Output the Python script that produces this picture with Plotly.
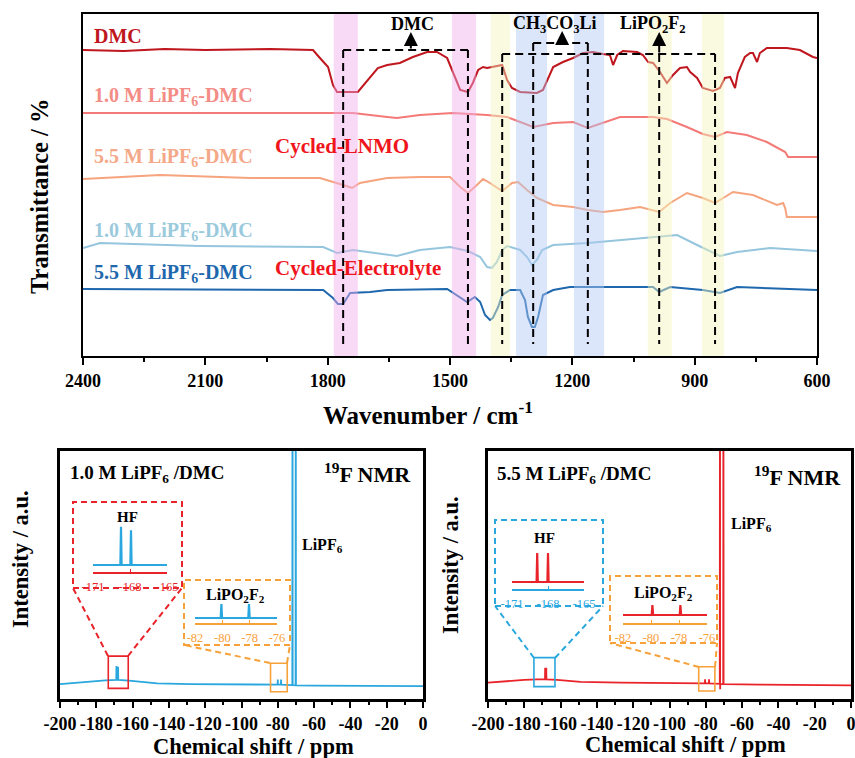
import plotly.graph_objects as go

W, H = 855, 758

# ---------------- FTIR data: wavenumber (cm-1) vs stacked transmittance (a.u.) ----------------
dmc_wn = [2400, 2300, 2200, 2100, 1941, 1836, 1819, 1799, 1787, 1777,
          1726, 1701, 1677, 1654, 1623, 1591, 1556, 1532, 1507, 1493,
          1475, 1456, 1444, 1431, 1419, 1409, 1395, 1372, 1360, 1348,
          1328, 1287, 1272, 1260, 1247, 1223, 1198, 1174, 1149, 1125,
          1108, 1100, 1090, 1076, 1041, 1027, 1014, 1002, 985, 968,
          953, 936, 919, 911, 894, 880, 855, 838, 826, 813,
          801, 794, 777, 764, 757, 747, 740, 723, 674, 642,
          610, 600]
dmc_tr = [306, 305, 307, 306, 307, 306, 298, 289, 271, 264,
          264, 276, 288, 291, 293, 299, 304, 304, 298, 284,
          266, 264, 273, 286, 289, 288, 289, 291, 276, 268,
          264, 263, 266, 278, 289, 294, 298, 303, 304, 302,
          301, 291, 301, 305, 304, 301, 294, 293, 284, 273,
          281, 288, 289, 284, 278, 268, 265, 268, 278, 279,
          268, 283, 299, 303, 303, 294, 303, 308, 308, 306,
          299, 298]

lnmo10_wn = [2400, 1787, 1738, 1654, 1630, 1574, 1493, 1409, 1360, 1328,
             1296, 1247, 1198, 1162, 1125, 1083, 1002, 968, 919, 880,
             850, 821, 772, 723, 678, 671, 600]
lnmo10_tr = [243, 243, 243, 239, 238, 241, 243, 241, 239, 234,
             229, 233, 234, 228, 233, 239, 239, 237, 229, 222,
             219, 224, 221, 214, 204, 199, 199]

lnmo55_wn = [2400, 2211, 1990, 1819, 1762, 1740, 1721, 1654, 1574, 1500,
             1475, 1456, 1434, 1419, 1402, 1372, 1348, 1333, 1311, 1287,
             1247, 1198, 1162, 1125, 1083, 1034, 987, 960, 919, 880,
             850, 806, 757, 698, 683, 678, 674, 600]
lnmo55_tr = [177, 181, 178, 178, 171, 168, 173, 178, 179, 179,
             169, 163, 171, 177, 173, 165, 173, 174, 166, 158,
             151, 149, 146, 144, 146, 149, 144, 153, 163, 158,
             153, 164, 161, 151, 153, 148, 139, 139]

elec10_wn = [2400, 2358, 2113, 1811, 1777, 1738, 1630, 1574, 1500, 1456,
             1426, 1409, 1397, 1385, 1372, 1360, 1328, 1311, 1299, 1287,
             1274, 1247, 1162, 1083, 1002, 943, 894, 838, 796, 715, 600]
elec10_tr = [108, 113, 110, 109, 103, 106, 100, 106, 109, 105,
             99, 89, 88, 94, 106, 110, 106, 99, 91, 96,
             106, 111, 113, 116, 119, 121, 111, 100, 104, 108, 105]

elec55_wn = [2400, 1811, 1787, 1775, 1762, 1745, 1696, 1654, 1507, 1483,
             1458, 1439, 1426, 1414, 1402, 1395, 1382, 1372, 1353, 1328,
             1316, 1309, 1299, 1292, 1284, 1272, 1247, 1206, 1002, 987,
             960, 880, 838, 796, 600]
elec55_tr = [67, 66, 58, 52, 52, 63, 64, 66, 67, 61,
             54, 59, 54, 41, 36, 38, 49, 61, 66, 66,
             56, 39, 29, 29, 39, 61, 66, 69, 69, 64,
             69, 66, 63, 69, 66]

# highlighted bands (cm-1) and assignment lines
band_pink = [(1785, 1726), (1495, 1436)]
band_yellow = [(1400, 1353), (1015, 956), (882, 828)]
band_blue = [(1338, 1262), (1196, 1122)]
dmc_lines = [1762, 1456]
ch3_lines = [1296, 1162]
lipo_lines = [1372, 987, 850]
ftir_ticks = [2400, 2100, 1800, 1500, 1200, 900, 600]

# ---------------- 19F NMR data: ppm vs intensity (a.u.) ----------------
nmr10_ppm = [-200, -190, -183, -175, -169.0, -168.9, -168.8, -168.1, -168.0, -167.9,
             -162, -156, -146.5, -128, -100, -82, -80.1, -80.0, -79.9, -78.3,
             -78.2, -78.1, -72.2, -72.0, -71.9, -71.8, -70.2, -70.1, -70.0, -60,
             -30, 0]
nmr10_int = [6.0, 6.7, 7.1, 7.5, 7.7, 13.3, 7.7, 7.7, 13.0, 7.7,
             7.4, 7.0, 6.3, 6.0, 5.9, 5.8, 5.8, 7.9, 5.8, 5.8,
             7.9, 5.8, 5.6, 5.6, 160, 5.6, 5.5, 160, 5.5, 5.4,
             5.3, 5.2]

nmr55_ppm = [-200, -188, -180, -173, -168.6, -168.5, -168.4, -168.0, -167.9, -167.8,
             -162, -155, -149, -127, -100, -85, -80.5, -80.4, -80.3, -78.3,
             -78.2, -78.1, -72.3, -72.2, -72.1, -72.0, -70.4, -70.3, -70.2, -50,
             -20, 0]
nmr55_int = [6.6, 7.4, 7.7, 7.9, 7.9, 12.6, 7.9, 7.9, 12.6, 7.9,
             7.7, 7.3, 6.9, 6.6, 6.4, 6.3, 6.3, 7.9, 6.3, 6.3,
             7.9, 6.3, 6.1, 160, 3.9, 6.1, 6.0, 160, 6.0, 5.8,
             5.6, 5.5]

# zoomed insets
hf10_ppm = [-171, -168.78, -168.73, -168.68, -167.97, -167.92, -167.87, -165]
hf10_int = [14.6, 14.6, 94, 14.6, 14.6, 87, 14.6, 14.6]
lipo10_ppm = [-82, -80.12, -80.07, -80.02, -78.1, -78.05, -78.0, -76]
lipo10_int = [21.7, 21.7, 82.6, 21.7, 21.7, 82.6, 21.7, 21.7]
hf55_ppm = [-171, -168.95, -168.9, -168.85, -168.05, -168.0, -167.95, -165]
hf55_int = [17.5, 17.5, 90, 17.5, 17.5, 90, 17.5, 17.5]
lipo55_ppm = [-82, -79.95, -79.9, -79.85, -77.95, -77.9, -77.85, -76]
lipo55_int = [34.8, 34.8, 78, 34.8, 34.8, 78, 34.8, 34.8]

nmr_ticks = [-200, -180, -160, -140, -120, -100, -80, -60, -40, -20, 0]
hf_ticks = [-171, -168, -165]
lipo_ticks = [-82, -80, -78, -76]

# ---------------- styles ----------------
FONT = "Liberation Serif"
C_DMC = "#C0161E"
C_L10 = "#F47A78"
C_L55 = "#F5A47E"
C_E10 = "#95C6DD"
C_E55 = "#1F68AE"
C_RED = "#F0141C"
C_NBLUE = "#29A7DE"
C_NRED = "#E8232A"
C_ORG = "#F7A13A"


def xp(v):
    return v / W


def yp(v):
    return 1 - v / H


fig = go.Figure()

for xs, ys, c in [(dmc_wn, dmc_tr, C_DMC), (lnmo10_wn, lnmo10_tr, C_L10),
                  (lnmo55_wn, lnmo55_tr, C_L55), (elec10_wn, elec10_tr, C_E10),
                  (elec55_wn, elec55_tr, C_E55)]:
    fig.add_trace(go.Scatter(x=xs, y=ys, mode="lines", line=dict(color=c, width=2),
                             xaxis="x", yaxis="y", hoverinfo="skip"))

fig.add_trace(go.Scatter(x=nmr10_ppm, y=nmr10_int, mode="lines",
                         line=dict(color=C_NBLUE, width=1.8), xaxis="x2", yaxis="y2"))
fig.add_trace(go.Scatter(x=nmr55_ppm, y=nmr55_int, mode="lines",
                         line=dict(color=C_NRED, width=1.8), xaxis="x3", yaxis="y3"))
fig.add_trace(go.Scatter(x=hf10_ppm, y=hf10_int, mode="lines",
                         line=dict(color=C_NBLUE, width=2.2), xaxis="x4", yaxis="y4"))
fig.add_trace(go.Scatter(x=lipo10_ppm, y=lipo10_int, mode="lines",
                         line=dict(color=C_NBLUE, width=2.2), xaxis="x5", yaxis="y5"))
fig.add_trace(go.Scatter(x=hf55_ppm, y=hf55_int, mode="lines",
                         line=dict(color=C_NRED, width=2.2), xaxis="x6", yaxis="y6"))
fig.add_trace(go.Scatter(x=lipo55_ppm, y=lipo55_int, mode="lines",
                         line=dict(color=C_NRED, width=2.2), xaxis="x7", yaxis="y7"))

# ---------------- axes ----------------
tickfont = dict(family=FONT, size=18, color="black", weight="bold")
frame = dict(showline=True, mirror=True, linecolor="black", showgrid=False, zeroline=False,
             automargin=False)

layout = dict(
    template="none",
    width=W, height=H, margin=dict(l=0, r=0, t=0, b=0, pad=0), autosize=False,
    paper_bgcolor="white", plot_bgcolor="white", showlegend=False,
    font=dict(family=FONT, color="black"),
    xaxis=dict(domain=[xp(83), xp(817)], range=[2400, 600], anchor="y", linewidth=2,
               tickmode="array", tickvals=ftir_ticks, ticks="outside", ticklen=7, tickwidth=2,
               tickcolor="black", ticklabeloverflow="allow",
               tickfont=tickfont, minor=dict(ticks="outside", ticklen=4, tickwidth=2, dtick=150,
                                             tick0=600, tickcolor="black", showgrid=False),
               **frame),
    yaxis=dict(domain=[yp(356), yp(14)], range=[0, 342], anchor="x", linewidth=2,
               showticklabels=False, ticks="", **frame),
)

for i, (x0, x1) in zip([2, 3], [(60, 423), (488, 851)]):
    layout[f"xaxis{i}"] = dict(domain=[xp(x0), xp(x1)], range=[-200, 0], anchor=f"y{i}", linewidth=3,
                               tickmode="array", tickvals=nmr_ticks, ticktext=[str(t) for t in nmr_ticks],
                               ticks="outside", ticklen=6, tickwidth=2, tickcolor="black", tickfont=tickfont,
                               ticklabeloverflow="allow",
                               minor=dict(ticks="outside", ticklen=3, tickwidth=2, dtick=10, tick0=0,
                                          tickcolor="black", showgrid=False),
                               **frame)
    layout[f"yaxis{i}"] = dict(domain=[yp(699), yp(451)], range=[0, 100], anchor=f"x{i}", linewidth=3,
                               showticklabels=False, ticks="", **frame)

insets = [
    (4, (93, 167), (572, 524), [-171, -165], hf_ticks, C_NRED),
    (5, (195, 277), (623, 600), [-82, -76], lipo_ticks, C_ORG),
    (6, (512, 584), (589, 549), [-171, -165], hf_ticks, C_NBLUE),
    (7, (623, 707), (623, 600), [-82, -76], lipo_ticks, C_ORG),
]
for (i, xd, yd, rng, tv, col) in insets:
    layout[f"xaxis{i}"] = dict(domain=[xp(xd[0]), xp(xd[1])], range=rng, anchor=f"y{i}",
                               showline=True, linecolor=col, linewidth=1.5, showgrid=False, zeroline=False,
                               automargin=False, ticklabeloverflow="allow",
                               tickmode="array", tickvals=tv, ticktext=[str(t) for t in tv],
                               ticks="inside", ticklen=3, tickwidth=1.2, tickcolor=col,
                               tickfont=dict(family=FONT, size=12.5, color=col), ticklabelstandoff=2)
    layout[f"yaxis{i}"] = dict(domain=[yp(yd[0]), yp(yd[1])], range=[0, 100], anchor=f"x{i}",
                               visible=False, automargin=False)

# ---------------- shapes ----------------
shapes = []
for bands, col in [(band_pink, "rgba(239,173,235,0.45)"), (band_yellow, "rgba(244,244,188,0.45)"),
                   (band_blue, "rgba(177,199,244,0.45)")]:
    for a, b in bands:
        shapes.append(dict(type="rect", xref="x", yref="y", x0=a, x1=b, y0=0, y1=342,
                           fillcolor=col, line=dict(width=0), layer="above"))

dash = dict(color="black", width=2, dash="8px,5px")


def dline(x0, y0, x1, y1):
    shapes.append(dict(type="line", xref="x", yref="y", x0=x0, y0=y0, x1=x1, y1=y1,
                       line=dash, layer="above"))


for w in dmc_lines:
    dline(w, 306, w, 12)
dline(dmc_lines[0], 306, dmc_lines[1], 306)
for w in ch3_lines:
    dline(w, 313, w, 12)
dline(ch3_lines[0], 313, ch3_lines[1], 313)
for w in lipo_lines:
    dline(w, 302, w, 12)
dline(lipo_lines[0], 302, lipo_lines[-1], 302)

# NMR: small solid boxes around zoomed regions
for xr, yr, x0, x1, y0, y1, col in [
    ("x2", "y2", -173.4, -162.4, 4.3, 17.3, C_NRED),
    ("x2", "y2", -84.0, -74.8, 2.9, 14.4, C_ORG),
    ("x3", "y3", -174.7, -163.1, 5.0, 16.7, C_NBLUE),
    ("x3", "y3", -83.9, -75.0, 3.2, 13.0, C_ORG),
]:
    shapes.append(dict(type="rect", xref=xr, yref=yr, x0=x0, x1=x1, y0=y0, y1=y1,
                       line=dict(color=col, width=1.6)))

# dashed inset frames and connectors (pixel positions)
for x0, y0, x1, y1, col in [(73, 502, 182, 588, C_NRED), (184, 580, 290, 645, C_ORG),
                            (495, 520, 603, 606, C_NBLUE), (610, 576, 717, 643, C_ORG)]:
    shapes.append(dict(type="rect", xref="paper", yref="paper", x0=xp(x0), x1=xp(x1),
                       y0=yp(y1), y1=yp(y0), line=dict(color=col, width=2, dash="6px,4px")))
for x0, y0, x1, y1, col in [(108, 656, 73, 588, C_NRED), (128, 656, 182, 588, C_NRED),
                            (270, 663, 184, 645, C_ORG), (287, 663, 290, 645, C_ORG),
                            (534, 658, 495, 606, C_NBLUE), (555, 658, 603, 606, C_NBLUE),
                            (699, 667, 610, 643, C_ORG), (715, 667, 717, 643, C_ORG)]:
    shapes.append(dict(type="line", xref="paper", yref="paper", x0=xp(x0), y0=yp(y0),
                       x1=xp(x1), y1=yp(y1), line=dict(color=col, width=2, dash="6px,4px")))

layout["shapes"] = shapes

# ---------------- annotations ----------------
anns = []


def txt(text, x, y, size, color="black", xanchor="center", angle=0, bold=True):
    t = f"<b>{text}</b>" if bold else text
    anns.append(dict(text=t, x=xp(x), y=yp(y), xref="paper", yref="paper", showarrow=False,
                     xanchor=xanchor, yanchor="middle", textangle=angle,
                     font=dict(family=FONT, size=size, color=color)))


# FTIR curve labels
txt("DMC", 92, 36, 20, C_DMC, "left")
txt("1.0 M LiPF<sub>6</sub>-DMC", 92, 96, 20, "#F48C86", "left")
txt("5.5 M LiPF<sub>6</sub>-DMC", 92, 158, 20, "#F4A887", "left")
txt("1.0 M LiPF<sub>6</sub>-DMC", 92, 231, 20, "#9BCADD", "left")
txt("5.5 M LiPF<sub>6</sub>-DMC", 92, 273, 20, C_E55, "left")
txt("Cycled-LNMO", 273, 146, 21, C_RED, "left")
txt("Cycled-Electrolyte", 273, 268, 21, C_RED, "left")
txt("DMC", 412, 24, 18)
txt("CH<sub>3</sub>CO<sub>3</sub>Li", 555, 24, 18)
txt("LiPO<sub>2</sub>F<sub>2</sub>", 653, 24, 18)
txt("Transmittance / %", 39, 196, 24.5, angle=-90)
txt("Wavenumber / cm<sup>-1</sup>", 428, 413, 25)

# arrows
for w, y0, y1 in [(1596, 306, 324), (1225, 313, 325), (987, 302, 324)]:
    anns.append(dict(x=w, y=y1, ax=w, ay=y0, xref="x", yref="y", axref="x", ayref="y",
                     showarrow=True, arrowhead=2, arrowsize=1.4, arrowwidth=2,
                     arrowcolor="black", text=""))

# NMR labels
txt("1.0 M LiPF<sub>6</sub> /DMC", 68, 474, 19, xanchor="left")
txt("5.5 M LiPF<sub>6</sub> /DMC", 495, 475, 19, xanchor="left")
txt("<sup>19</sup>F NMR", 413, 473, 22, xanchor="right")
txt("<sup>19</sup>F NMR", 843, 476, 22, xanchor="right")
txt("LiPF<sub>6</sub>", 300, 545, 16, xanchor="left")
txt("LiPF<sub>6</sub>", 729, 524, 16, xanchor="left")
txt("HF", 127, 517, 15)
txt("HF", 544, 538, 15)
txt("LiPO<sub>2</sub>F<sub>2</sub>", 235, 595, 16)
txt("LiPO<sub>2</sub>F<sub>2</sub>", 663, 593, 16)
txt("Intensity / a.u.", 20, 559, 22.5, angle=-90)
txt("Intensity / a.u.", 450, 565, 22.5, angle=-90)
txt("Chemical shift / ppm", 253, 746, 22.5)
txt("Chemical shift / ppm", 685, 744, 22.5)

layout["annotations"] = anns
fig.update_layout(**layout)
fig.write_html("out.html")
